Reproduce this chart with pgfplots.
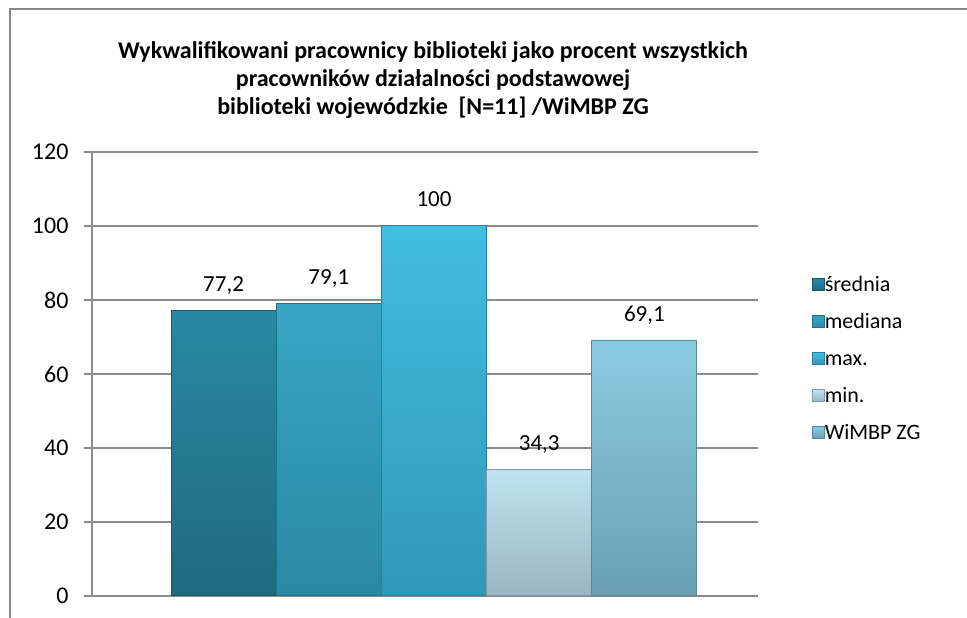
\documentclass[border=0pt]{standalone}
\usepackage{fontspec}
\setmainfont{Carlito}
\usepackage{pgfplots}
\pgfplotsset{compat=1.18}
\definecolor{frame}{HTML}{888888}
\definecolor{grid}{HTML}{8C8C8C}
\definecolor{aT}{HTML}{2A88A2}\definecolor{aB}{HTML}{1F6A80}\definecolor{aD}{HTML}{185A6C}
\definecolor{bT}{HTML}{37A6C5}\definecolor{bB}{HTML}{2A88A4}\definecolor{bD}{HTML}{20728A}
\definecolor{cT}{HTML}{41BEE0}\definecolor{cB}{HTML}{3197B8}\definecolor{cD}{HTML}{27819E}
\definecolor{dT}{HTML}{BFE3F0}\definecolor{dB}{HTML}{98B6C3}\definecolor{dD}{HTML}{8099A5}
\definecolor{eT}{HTML}{8BCBE2}\definecolor{eB}{HTML}{6A9FB5}\definecolor{eD}{HTML}{58889C}
\begin{document}
\begin{tikzpicture}
\useasboundingbox (0pt,0pt) rectangle (967pt,618pt);
\draw[color=frame, line width=2pt] (10pt,-5pt) -- (10pt,609pt) -- (975pt,609pt);
\node[font=\bfseries\fontsize{24}{28}\selectfont, align=center] at (433pt,538pt)
  {Wykwalifikowani pracownicy biblioteki jako procent wszystkich\\
   pracowników działalności podstawowej\\
   biblioteki wojewódzkie\ \ [N=11] /WiMBP ZG};
\begin{axis}[
  at={(92pt,22pt)}, anchor=south west,
  scale only axis, width=666pt, height=444pt,
  ybar,
  legend image code/.code={\path[#1, line width=0.6pt] (0pt,-5pt) rectangle (12pt,7pt);},
  xmin=-1.251, xmax=5.08,
  ymin=0, ymax=120, ytick={0,20,...,120},
  xtick=\empty,
  axis lines*=left,
  axis line style={color=grid, line width=1.2pt},
  ymajorgrids, grid style={color=grid, line width=1.2pt},
  tick align=outside, major tick length=8pt,
  y tick style={color=grid, line width=1.2pt},
  yticklabel style={font=\fontsize{24}{28}\selectfont, xshift=-12pt},
  /pgf/number format/assume math mode=true,
  bar width=1,
  point meta=explicit symbolic,
  nodes near coords,
  nodes near coords style={font=\fontsize{23}{28}\selectfont, anchor=base, yshift=19pt, inner sep=0pt},
  legend style={at={(1.081,0.532)}, anchor=west, draw=none, fill=none,
    font=\fontsize{22}{26}\selectfont, row sep=0pt, inner sep=0pt,
    nodes={text height=16pt, text depth=5pt, inner sep=0pt, outer sep=0pt, minimum height=37pt, anchor=west},
    /tikz/every even column/.append style={column sep=5pt}},
  legend cell align=left,
]
\addplot[bar shift=0pt, top color=aT, bottom color=aB, draw=aD, line width=1pt] coordinates {(0,77.2) [77,2]};
\addlegendentry{średnia}
\addplot[bar shift=0pt, top color=bT, bottom color=bB, draw=bD, line width=1pt] coordinates {(1,79.1) [79,1]};
\addlegendentry{mediana}
\addplot[bar shift=0pt, top color=cT, bottom color=cB, draw=cD, line width=1pt] coordinates {(2,100) [100]};
\addlegendentry{max.}
\addplot[bar shift=0pt, top color=dT, bottom color=dB, draw=dD, line width=1pt] coordinates {(3,34.3) [34,3]};
\addlegendentry{min.}
\addplot[bar shift=0pt, top color=eT, bottom color=eB, draw=eD, line width=1pt] coordinates {(4,69.1) [69,1]};
\addlegendentry{WiMBP ZG}
\end{axis}
\end{tikzpicture}
\end{document}
